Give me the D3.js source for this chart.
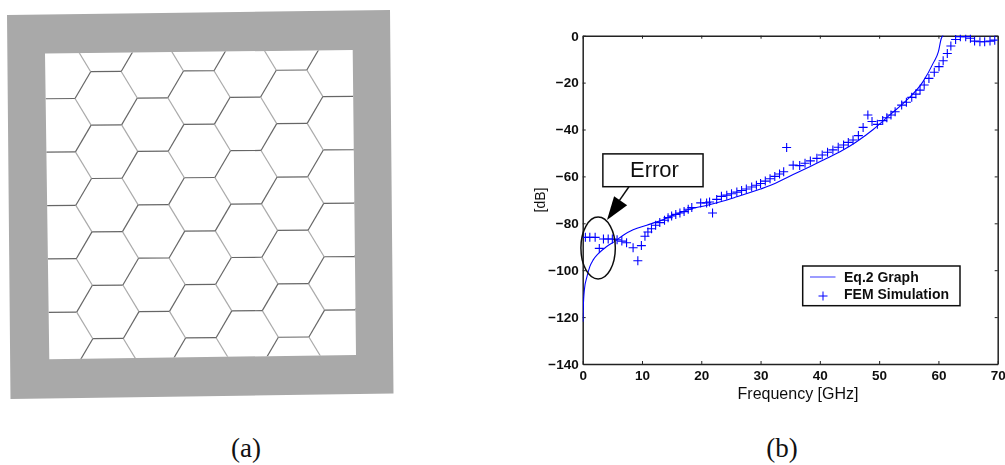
<!DOCTYPE html>
<html>
<head>
<meta charset="utf-8">
<script src="https://cdn.jsdelivr.net/npm/d3@7"></script>
<style>
    html, body { margin: 0; padding: 0; background: #fff; }
    svg { display: block; }
    text { font-family: "Liberation Sans", Arial, sans-serif; fill: #111; }
</style>
</head>
<body>
<svg id="svg" width="1005" height="465"></svg>
<script>
// Eq.2 curve
const curveFreq = [0.05, 0.1, 0.3, 0.7, 1.2, 1.8, 2.6, 4, 5.4, 6.9, 8.5, 10.8, 12.5, 15.3, 18, 21, 23.7, 26, 30, 31.6, 35, 38.3, 40.6, 43.4, 46.2, 49, 51.8, 54.6, 57.4, 59.1, 60, 60.5, 60.8];
const curveDb = [-122, -116, -108, -103, -98.5, -95.5, -93, -90, -87.7, -85, -82.8, -80.8, -79.4, -76.6, -74, -72.3, -70.5, -68.7, -65.4, -63.9, -59.8, -55.9, -53, -49.5, -45.2, -40, -33.8, -27.6, -19.6, -11.8, -6.8, -1.1, 0];

// FEM simulation markers
const femFreq = [0.45, 1.2, 2.1, 2.8, 3.5, 4.3, 5, 5.8, 6.6, 7.4, 8.5, 9.3, 9.9, 10.5, 11, 11.6, 12.3, 13, 13.8, 14.4, 15, 15.7, 16.4, 17.1, 17.8, 18.4, 19.9, 20.9, 21.4, 21.9, 22.6, 23.4, 24.3, 25.1, 26, 26.8, 27.6, 28.5, 29.3, 30, 30.8, 31.6, 32.4, 33.2, 33.9, 34.4, 35.5, 36.6, 37.5, 38.4, 39.5, 40.4, 41.3, 42.2, 43.1, 44, 44.8, 45.6, 46.5, 47.3, 48.1, 48.8, 49.7, 50.6, 51.3, 52, 52.7, 53.8, 54.6, 55.5, 56.2, 56.9, 57.6, 58.4, 59.3, 60.1, 60.8, 61.5, 62.1, 62.9, 63.7, 64.6, 65.4, 66.1, 67, 67.8, 68.7, 69.5];
const femDb = [-86, -86, -86, -90.7, -86.7, -86.7, -86.7, -87, -87.6, -88.3, -90.4, -96, -89.5, -85.5, -83.7, -82.3, -80.8, -79.7, -78.7, -77.6, -76.9, -76.2, -75.6, -75, -74, -73.3, -71.3, -71.3, -70.9, -75.6, -69.8, -68.5, -68, -67.4, -66.7, -66, -65.4, -64.5, -63.8, -63, -62, -61, -60, -59, -58, -47.7, -55.2, -55.4, -54.4, -53.4, -52.3, -50.9, -49.7, -48.7, -47.6, -46.6, -45.5, -44.5, -42.6, -39.1, -33.8, -36.6, -37.8, -36.2, -35, -33.8, -32.4, -29.6, -28.4, -26.3, -24.9, -23.2, -21, -18.2, -15.6, -13.2, -10.7, -7.6, -4.4, -1.6, -0.4, -0.4, -1.1, -2.3, -2.6, -2.6, -2.3, -1.9];

const xTicks = [0, 10, 20, 30, 40, 50, 60, 70];
const yTicks = [0, -20, -40, -60, -80, -100, -120, -140];
const legendLabels = ["Eq.2 Graph", "FEM Simulation"];

// hexagon grid indices of the mesh in panel (a)
const hexColumns = [-1, 0, 1, 2, 3, 4, 5, 6];
const hexRows = [-2, -1, 0, 1, 2, 3, 4, 5, 6];

const svg = d3.select("#svg");
const blue = "#0000ff";

const defs = svg.append("defs");
defs.append("filter").attr("id", "soft")
    .attr("x", "-5%").attr("y", "-5%").attr("width", "110%").attr("height", "110%")
    .append("feGaussianBlur").attr("stdDeviation", 0.6);
defs.append("filter").attr("id", "soft2")
    .attr("x", "-5%").attr("y", "-5%").attr("width", "110%").attr("height", "110%")
    .append("feGaussianBlur").attr("stdDeviation", 0.35);

function drawMesh() {
    const outer = [[7, 15], [390, 10], [393.5, 393.5], [10.5, 399]];
    const inner = [[45, 53.5], [352.7, 50], [356, 355], [49.3, 359.3]];
    const poly = pts => "M" + pts.join("L") + "Z";

    defs.append("clipPath").attr("id", "inner-clip")
        .append("path").attr("d", poly(inner));

    const panel = svg.append("g").attr("filter", "url(#soft)");

    const colX = d3.scaleLinear().domain([0, 1]).range([91.75, 138.15]);
    const rowY = d3.scaleLinear().domain([0, 1]).range([70.84, 124.24]);
    const side = 30.5;
    const halfRow = (rowY(1) - rowY(0)) / 2;

    const mesh = panel.append("g").attr("clip-path", "url(#inner-clip)")
        .append("g").attr("transform", "rotate(-0.45 200 205)")
        .attr("fill", "none");

    const cells = hexColumns.flatMap(c => hexRows.map(r => {
        let x = colX(c);
        let y = rowY(r) + (Math.abs(c) % 2 === 1 ? halfRow : 0);
        return { x, y };
    }));
    const step = colX(1) - colX(0);

    // three edge directions, the picture shows them in different greys
    mesh.selectAll(".flat").data(cells).enter().append("line")
        .attr("x1", d => d.x).attr("y1", d => d.y)
        .attr("x2", d => d.x + side).attr("y2", d => d.y)
        .attr("stroke", "#666").attr("stroke-width", 1.2);
    mesh.selectAll(".down").data(cells).enter().append("line")
        .attr("x1", d => d.x + side).attr("y1", d => d.y)
        .attr("x2", d => d.x + step).attr("y2", d => d.y + halfRow)
        .attr("stroke", "#aaa").attr("stroke-width", 1.2);
    mesh.selectAll(".up").data(cells).enter().append("line")
        .attr("x1", d => d.x).attr("y1", d => d.y)
        .attr("x2", d => d.x - step + side).attr("y2", d => d.y + halfRow)
        .attr("stroke", "#666").attr("stroke-width", 1.2);

    panel.append("path")
        .attr("d", poly(outer) + poly(inner))
        .attr("fill", "#a9a9a9")
        .attr("fill-rule", "evenodd");
}

function drawChart() {
    const left = 582.7, right = 997.7, top = 35.7, bottom = 364;
    const xScale = d3.scaleLinear().domain([0, 70]).range([left, right]);
    const yScale = d3.scaleLinear().domain([-140, 0]).range([bottom, top]);

    defs.append("clipPath").attr("id", "plot-clip")
        .append("rect").attr("x", left).attr("y", top - 1)
        .attr("width", right - left).attr("height", bottom - top + 1);

    const chart = svg.append("g").attr("filter", "url(#soft2)");

    const styleAxis = g => {
        g.selectAll("path").attr("stroke", "#222").attr("stroke-width", 1.5);
        g.selectAll("line").attr("stroke", "#222").attr("stroke-width", 1);
        g.selectAll("text")
            .style("font-size", "13.5px")
            .style("font-weight", "bold")
            .attr("fill", "#111");
    };

    chart.append("g")
        .attr("transform", `translate(0,${bottom})`)
        .call(d3.axisBottom(xScale).tickValues(xTicks).tickSize(-3).tickSizeOuter(0).tickPadding(6))
        .call(styleAxis);
    chart.append("g")
        .attr("transform", `translate(${left},0)`)
        .call(d3.axisLeft(yScale).tickValues(yTicks).tickSize(-3).tickSizeOuter(0).tickPadding(4))
        .call(styleAxis);
    chart.append("g")
        .attr("transform", `translate(0,${top})`)
        .call(d3.axisTop(xScale).tickValues(xTicks).tickSize(-3).tickSizeOuter(0).tickFormat(""))
        .call(styleAxis);
    chart.append("g")
        .attr("transform", `translate(${right},0)`)
        .call(d3.axisRight(yScale).tickValues(yTicks).tickSize(-3).tickSizeOuter(0).tickFormat(""))
        .call(styleAxis);

    const plot = chart.append("g").attr("clip-path", "url(#plot-clip)");

    const curveLine = d3.line()
        .x(d => xScale(d[0]))
        .y(d => yScale(d[1]))
        .curve(d3.curveMonotoneX);
    plot.append("path")
        .attr("d", curveLine(d3.zip(curveFreq, curveDb)))
        .attr("fill", "none")
        .attr("stroke", blue)
        .attr("stroke-width", 1.1);

    const plus = "M-4.5,0H4.5M0,-4.5V4.5";
    plot.selectAll(".fem").data(d3.zip(femFreq, femDb)).enter().append("path")
        .attr("class", "fem")
        .attr("transform", d => `translate(${xScale(d[0])},${yScale(d[1])})`)
        .attr("d", plus)
        .attr("fill", "none")
        .attr("stroke", blue)
        .attr("stroke-width", 1.1);

    // annotation, placed in data units
    chart.append("ellipse")
        .attr("cx", xScale(2.6)).attr("cy", yScale(-90.5))
        .attr("rx", xScale(2.9) - xScale(0)).attr("ry", yScale(-13.2) - yScale(0))
        .attr("fill", "none").attr("stroke", "#111").attr("stroke-width", 1.5);

    chart.append("line")
        .attr("x1", xScale(7.8)).attr("y1", yScale(-64.4))
        .attr("x2", xScale(6.2)).attr("y2", yScale(-70.2))
        .attr("stroke", "#111").attr("stroke-width", 1.5);
    chart.append("path")
        .attr("d", d3.line()([
            [xScale(4.1), yScale(-78.6)],
            [xScale(5.3), yScale(-68.5)],
            [xScale(7.5), yScale(-72.3)]
        ]) + "Z")
        .attr("fill", "#000");

    chart.append("rect")
        .attr("x", xScale(3.4)).attr("y", yScale(-50.4))
        .attr("width", xScale(20.3) - xScale(3.4))
        .attr("height", yScale(-64.4) - yScale(-50.4))
        .attr("fill", "#fff").attr("stroke", "#111").attr("stroke-width", 1.5);
    chart.append("text")
        .attr("x", xScale(12.1)).attr("y", yScale(-60.4))
        .attr("text-anchor", "middle")
        .style("font-size", "22px")
        .text("Error");

    // axis titles
    chart.append("text")
        .attr("x", 798).attr("y", 399)
        .attr("text-anchor", "middle")
        .style("font-size", "16px")
        .text("Frequency [GHz]");
    chart.append("text")
        .attr("transform", "translate(545,200) rotate(-90)")
        .attr("text-anchor", "middle")
        .style("font-size", "14px")
        .text("[dB]");

    // legend
    const legend = chart.append("g");
    legend.append("rect")
        .attr("x", 802.7).attr("y", 266).attr("width", 157.3).attr("height", 39.7)
        .attr("fill", "#fff").attr("stroke", "#111").attr("stroke-width", 1.5);
    legend.append("line")
        .attr("x1", 810).attr("x2", 835.5).attr("y1", 277).attr("y2", 277)
        .attr("stroke", "#5a5aff").attr("stroke-width", 1.2);
    legend.append("path")
        .attr("transform", "translate(823,296)")
        .attr("d", plus).attr("fill", "none").attr("stroke", blue);
    legend.selectAll(".label").data(legendLabels).enter().append("text")
        .attr("class", "label")
        .attr("x", 844)
        .attr("y", (d, i) => 282 + i * 17)
        .style("font-size", "14px")
        .style("font-weight", "bold")
        .text(d => d);
}

function drawCaptions() {
    svg.selectAll(".caption").data(["(a)", "(b)"]).enter().append("text")
        .attr("class", "caption")
        .attr("x", (d, i) => i === 0 ? 246 : 782)
        .attr("y", 457)
        .attr("text-anchor", "middle")
        .style("font-family", "'Liberation Serif', 'Times New Roman', serif")
        .style("font-size", "27px")
        .text(d => d);
}

drawMesh();
drawChart();
drawCaptions();
</script>
</body>
</html>
